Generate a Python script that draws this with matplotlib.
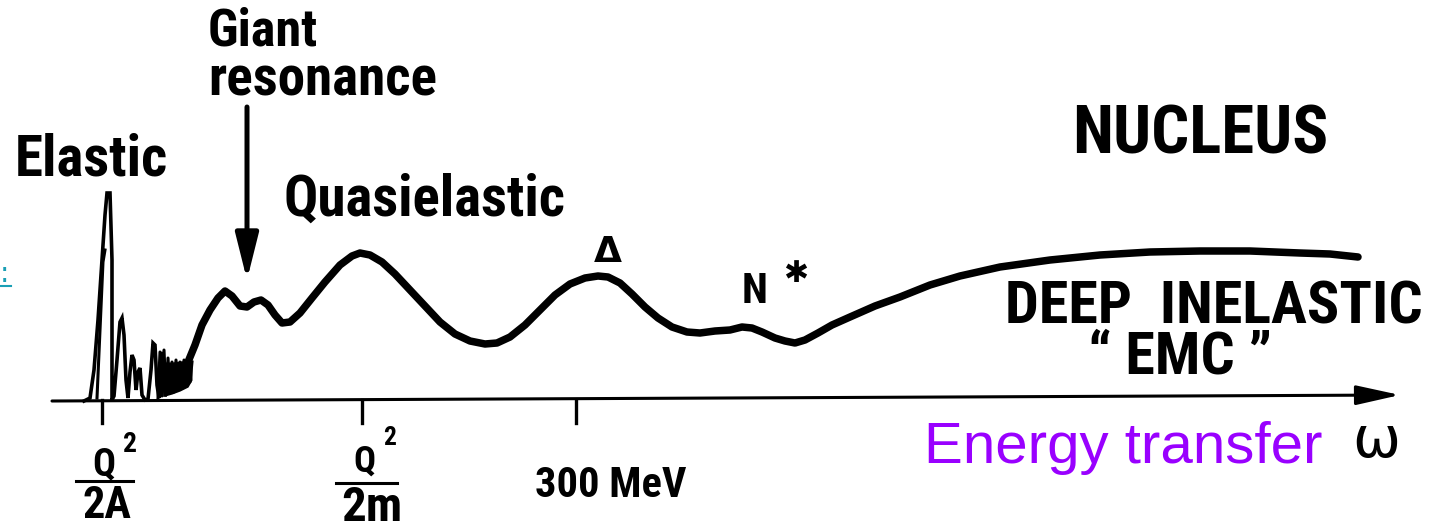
import matplotlib
matplotlib.use('Agg')
import matplotlib.pyplot as plt
from matplotlib import font_manager

W, H = 1430, 529

# response curve (x, y in picture pixels, y from the top)
curve_x = [188, 195, 202, 210, 218, 225, 232, 240, 247, 254, 261, 268, 275, 282, 290, 300, 312, 325,
           340, 352, 360, 370, 382, 395, 410, 425, 440, 455, 470, 485, 497, 510, 525, 540, 555, 570,
           585, 598, 608, 620, 632, 645, 658, 672, 687, 700, 715, 730, 742, 752, 762, 775, 785, 795,
           805, 818, 832, 850, 875, 900, 930, 960, 1000, 1050, 1100, 1150, 1200, 1250, 1300, 1330, 1358]
curve_y = [362, 345, 325, 310, 298, 291, 296, 306, 307, 302, 300, 305, 315, 323, 322, 313, 298, 282,
           265, 256, 253, 255, 262, 274, 290, 306, 322, 334, 341, 344, 343, 337, 325, 310, 295, 284,
           278, 276, 277, 283, 294, 307, 318, 327, 332, 333, 331, 330, 327, 328, 332, 338, 341, 343,
           340, 333, 325, 317, 306, 297, 285, 276, 267, 260, 255, 252, 251, 251, 253, 254, 257]

# elastic peak and the low-lying levels
spike_x = [84, 90, 94, 98, 102, 105, 107, 110, 112, 112, 114, 117, 120, 122, 124, 126, 128, 130, 132,
           134, 136, 138, 140, 142, 145, 148, 151, 153, 155, 157, 159, 161, 163, 165]
spike_y = [401, 398, 370, 320, 260, 215, 193, 193, 260, 400, 396, 360, 322, 318, 335, 380, 398, 372,
           355, 360, 390, 372, 368, 395, 400, 399, 370, 343, 345, 385, 398, 362, 352, 395]
inner_x = [97, 100, 103, 105]
inner_y = [398, 330, 262, 250]
noise_x = [158, 160, 162, 164, 166, 168, 170, 172, 174, 176, 178, 180, 182, 184, 186, 188, 190, 192]
noise_y = [398, 352, 396, 350, 395, 358, 393, 362, 392, 360, 390, 362, 388, 360, 386, 362, 382, 362]
fill_x = [165, 172, 180, 188, 192]
fill_lo = [396, 394, 391, 387, 380]
fill_hi = [362, 362, 361, 360, 360]

# axis
axis_x = [52, 1400]
axis_y = [401, 395]
tick_x = [102, 362, 576]

names = {f.name for f in font_manager.fontManager.ttflist}
hand = 'DejaVu Sans'
for n in ['Roboto Condensed', 'Liberation Sans Narrow', 'DejaVu Sans']:
    if n in names:
        hand = n
        break

fig = plt.figure(figsize=(W / 100, H / 100), dpi=100)
ax = fig.add_axes([0, 0, 1, 1])
ax.set_xlim(0, W)
ax.set_ylim(H, 0)
ax.axis('off')
r = fig.canvas.get_renderer()


def put(s, x, y, w, ha='left', size=30, family=hand, weight='bold', **kw):
    t = ax.text(x, y, s, ha=ha, va='baseline', fontsize=size, family=family,
                fontweight=weight, **kw)
    bb = t.get_window_extent(renderer=r)
    t.set_fontsize(size * w / bb.width)
    return t


ax.plot(curve_x, curve_y, color='black', lw=5.4, solid_capstyle='round', solid_joinstyle='round')
ax.plot(spike_x, spike_y, color='black', lw=2.6, solid_joinstyle='miter')
ax.plot(inner_x, inner_y, color='black', lw=2.2)
ax.plot(noise_x, noise_y, color='black', lw=2.2)
ax.fill_between(fill_x, fill_lo, fill_hi, color='black', lw=0)

ax.annotate('', xy=(axis_x[1], axis_y[1]), xytext=(axis_x[0], axis_y[0]),
            arrowprops=dict(arrowstyle='-|>,head_length=1.35,head_width=0.3', lw=2.2,
                            color='black', mutation_scale=20, shrinkA=0, shrinkB=0))
for tx in tick_x:
    ax.plot([tx, tx], [400, 423], color='black', lw=2.4)

# giant resonance pointer
ax.annotate('', xy=(247, 280), xytext=(247, 107),
            arrowprops=dict(arrowstyle='-|>,head_length=2.0,head_width=0.5', lw=3.6,
                            color='black', mutation_scale=14, shrinkA=0, shrinkB=0))

put('Elastic', 15, 176, 153)
put('Giant', 208, 45, 110)
put('resonance', 208, 96, 229)
put('Quasielastic', 283, 216, 282)
put('NUCLEUS', 1072, 153, 256)
# two lines in one text so they sit tight like the sketch (baseline = last line)
put('DEEP  INELASTIC\n      \u201c EMC \u201d', 1005, 374, 417, multialignment='left',
    linespacing=0.88)
put('\u0394', 608, 262, 28, ha='center', family='DejaVu Sans', weight='bold')
put('N', 742, 303, 26)
put('\u2731', 796, 282, 25, ha='center', family='DejaVu Sans', weight='normal')
put('300 MeV', 535, 497, 152)

# tick labels  Q^2/2A  and  Q^2/2m
put('Q', 92, 475, 23)
put('2', 123, 452, 14)
ax.plot([76, 133], [481, 481], color='black', lw=2.2)
put('2A', 83, 518, 49)
put('Q', 353, 472, 22)
put('2', 383, 445, 13)
ax.plot([336, 397], [483, 483], color='black', lw=2.2)
put('2m', 341, 521, 61)

put('Energy transfer', 924, 463, 398, family='Liberation Sans', weight='normal', color='#9900ff')
put('\u03c9', 1376, 457, 48, ha='center', family='DejaVu Sans', weight='normal')

# cut-off link text at the left edge
ax.text(0, 282, ':', fontsize=20, color='#1a9fb5', va='baseline', ha='left')
ax.plot([0, 11], [286, 286], color='#1a9fb5', lw=1.5)

fig.savefig('out.png', dpi=100)
plt.close(fig)
